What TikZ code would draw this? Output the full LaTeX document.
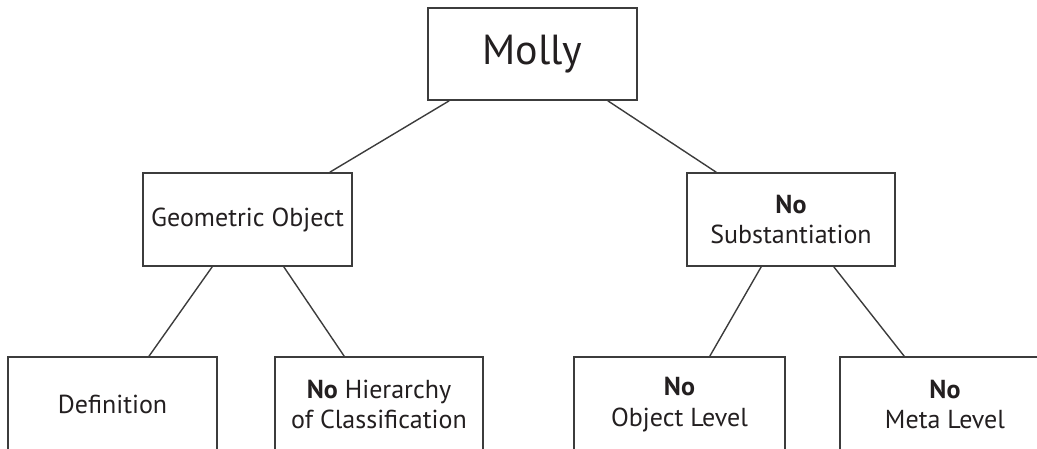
\documentclass[tikz,border=0pt]{standalone}
\usepackage{fontspec}
\setmainfont{PT Sans}
\definecolor{edge}{HTML}{3C3C3C}
\definecolor{ink}{HTML}{231F20}
\begin{document}
\begin{tikzpicture}[x=1pt,y=-1pt,
  box/.style={draw=edge,line width=1.6pt,fill=white,text=ink,align=center,inner sep=0pt},
  link/.style={draw=edge,line width=1.4pt},
  small/.style={font=\fontsize{26}{30.5}\selectfont},
  big/.style={font=\fontsize{42}{44}\selectfont}]
\useasboundingbox (0,0) rectangle (1037,448);
\clip (0,0) rectangle (1037,448);
% nodes
\node[box,big,minimum width=209pt,minimum height=92pt] (molly) at (532.5,54) {Molly};
\node[box,small,minimum width=209pt,minimum height=93pt] (geo) at (247.5,219.5) {Geometric Object};
\node[box,small,minimum width=208pt,minimum height=93pt] (subst) at (791,219.5) {\textbf{No}\\Substantiation};
\node[box,small,minimum width=209pt,minimum height=95pt] (def) at (112.5,404.5) {Definition};
\node[box,small,minimum width=208pt,minimum height=95pt] (hier) at (379,404.5) {\textbf{No} Hierarchy\\of Classification};
\node[box,small,minimum width=211pt,minimum height=95pt] (objl) at (679.5,404.5) {\textbf{No}\\Object Level};
\node[box,small,minimum width=210pt,minimum height=95pt] (meta) at (945,404.5) {\textbf{No}\\Meta Level};
% connectors
\draw[link] ([xshift=22pt]molly.south west) -- ([xshift=-23pt]geo.north east);
\draw[link] ([xshift=-30pt]molly.south east) -- ([xshift=30pt]subst.north west);
\draw[link] ([xshift=70pt]geo.south west) -- ([xshift=36.5pt]def.north);
\draw[link] ([xshift=-69pt]geo.south east) -- ([xshift=70pt]hier.north west);
\draw[link] ([xshift=75pt]subst.south west) -- ([xshift=-76pt]objl.north east);
\draw[link] ([xshift=-62pt]subst.south east) -- ([xshift=65pt]meta.north west);
\end{tikzpicture}
\end{document}
